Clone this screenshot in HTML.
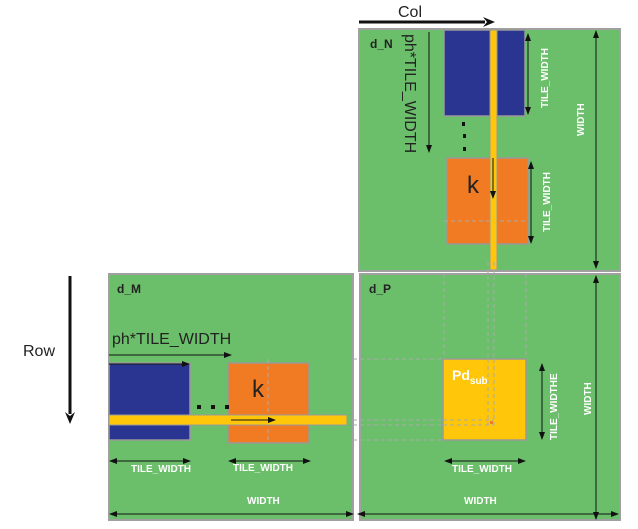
<!DOCTYPE html>
<html><head><style>body{margin:0;background:#fff}svg{display:block}</style></head><body>
<svg width="638" height="529" viewBox="0 0 638 529" xmlns="http://www.w3.org/2000/svg" font-family="Liberation Sans, Arial, sans-serif">
<defs>
<marker id="a" markerWidth="8" markerHeight="8" refX="7" refY="4" orient="auto" markerUnits="userSpaceOnUse"><path d="M0,1 L8,4 L0,7z" fill="#111"/></marker>
<marker id="b" markerWidth="8" markerHeight="8" refX="1" refY="4" orient="auto" markerUnits="userSpaceOnUse"><path d="M8,1 L0,4 L8,7z" fill="#111"/></marker>
<marker id="o" markerWidth="12" markerHeight="10" refX="2" refY="5" orient="auto" markerUnits="userSpaceOnUse"><path d="M0,0 L12,5 L0,10 L4,5z" fill="#111"/></marker>
</defs>
<!-- matrices -->
<rect x="359" y="29" width="261" height="242" fill="#6bbe6a" stroke="#a0a0a0" stroke-width="2"/>
<rect x="109" y="274" width="244" height="246" fill="#6bbe6a" stroke="#a0a0a0" stroke-width="2"/>
<rect x="360" y="274" width="260" height="246" fill="#6bbe6a" stroke="#a0a0a0" stroke-width="2"/>
<text x="370" y="48" font-size="12" font-weight="bold" fill="#222">d_N</text>
<text x="117" y="293" font-size="12" font-weight="bold" fill="#222">d_M</text>
<text x="369" y="293" font-size="12" font-weight="bold" fill="#222">d_P</text>
<!-- d_N tiles -->
<rect x="444" y="30" width="81" height="86" fill="#2a3592" stroke="#999" stroke-width="1.5"/>
<rect x="447" y="158" width="81" height="86" fill="#f07b23" stroke="#999" stroke-width="1.5"/>
<line x1="444" y1="221" x2="528" y2="221" stroke="#aaa" stroke-dasharray="4,3"/>
<rect x="490" y="30" width="7" height="240" fill="#ffc60a" stroke="#999" stroke-width="1"/>
<line x1="493" y1="158" x2="493" y2="198" stroke="#111" marker-end="url(#a)"/>
<text x="473" y="193" font-size="24" fill="#222" text-anchor="middle">k</text>
<rect x="462" y="122" width="3" height="4" fill="#111"/><rect x="463" y="134" width="3" height="4" fill="#111"/><rect x="463" y="147" width="3" height="4" fill="#111"/>
<line x1="429" y1="32" x2="429" y2="152" stroke="#111" marker-end="url(#a)"/>
<text transform="translate(405,34) rotate(90)" font-size="16" fill="#222">ph*TILE_WIDTH</text>
<line x1="528" y1="34" x2="528" y2="114" stroke="#111" marker-end="url(#a)" marker-start="url(#b)"/>
<text transform="translate(548,108) rotate(-90)" font-size="10" font-weight="bold" fill="#fff">TILE_WIDTH</text>
<line x1="531" y1="162" x2="531" y2="243" stroke="#111" marker-end="url(#a)" marker-start="url(#b)"/>
<text transform="translate(550,232) rotate(-90)" font-size="10" font-weight="bold" fill="#fff">TILE_WIDTH</text>
<line x1="596" y1="31" x2="596" y2="268" stroke="#111" marker-end="url(#a)" marker-start="url(#b)"/>
<text transform="translate(584,136) rotate(-90)" font-size="10" font-weight="bold" fill="#fff">WIDTH</text>
<!-- Col -->
<line x1="359" y1="22" x2="485" y2="22" stroke="#111" stroke-width="3" marker-end="url(#o)"/>
<text x="398" y="17" font-size="16" fill="#222">Col</text>
<!-- Row -->
<line x1="70" y1="276" x2="70" y2="414" stroke="#111" stroke-width="3" transform="" marker-end="url(#o)"/>
<text x="23" y="356" font-size="16" fill="#222">Row</text>
<!-- d_M tiles -->
<rect x="109" y="363" width="81" height="77" fill="#2a3592" stroke="#999" stroke-width="1.5"/>
<rect x="228" y="363" width="81" height="80" fill="#f07b23" stroke="#999" stroke-width="1.5"/>
<line x1="268" y1="359" x2="268" y2="443" stroke="#aaa" stroke-dasharray="4,3"/>
<rect x="109" y="415" width="238" height="10" fill="#ffc60a" stroke="#999" stroke-width="1"/>
<line x1="231" y1="420" x2="275" y2="420" stroke="#111" marker-end="url(#a)"/>
<text x="258" y="397" font-size="24" fill="#222" text-anchor="middle">k</text>
<rect x="197" y="405" width="4" height="4" fill="#111"/><rect x="211" y="405" width="4" height="4" fill="#111"/><rect x="225" y="405" width="4" height="4" fill="#111"/>
<text x="112" y="344" font-size="16" fill="#222">ph*TILE_WIDTH</text>
<line x1="109" y1="355" x2="231" y2="355" stroke="#111" marker-end="url(#a)"/>
<line x1="109" y1="364" x2="189" y2="364" stroke="#111" marker-end="url(#a)"/>
<line x1="110" y1="461" x2="190" y2="461" stroke="#111" marker-end="url(#a)" marker-start="url(#b)"/>
<text x="131" y="472" font-size="10" font-weight="bold" fill="#fff">TILE_WIDTH</text>
<line x1="229" y1="461" x2="310" y2="461" stroke="#111" marker-end="url(#a)" marker-start="url(#b)"/>
<text x="233" y="471" font-size="10" font-weight="bold" fill="#fff">TILE_WIDTH</text>
<line x1="110" y1="514" x2="353" y2="514" stroke="#111" marker-end="url(#a)" marker-start="url(#b)"/>
<text x="247" y="504" font-size="10" font-weight="bold" fill="#fff">WIDTH</text>
<!-- d_P -->
<g stroke="#aaa" stroke-dasharray="4,3" fill="none">
<line x1="444" y1="274" x2="444" y2="440"/>
<line x1="526" y1="274" x2="526" y2="440"/>
<line x1="488" y1="262" x2="488" y2="425"/>
<line x1="494" y1="262" x2="494" y2="425"/>
<line x1="353" y1="359" x2="444" y2="359"/>
<line x1="353" y1="440" x2="444" y2="440"/>
<line x1="353" y1="420" x2="494" y2="420"/>
<line x1="353" y1="425" x2="494" y2="425"/>
</g>
<rect x="443" y="359" width="83" height="81" fill="#ffc60a" stroke="#999" stroke-width="1.5"/>
<g stroke="#aaa" stroke-dasharray="4,3" fill="none">
<line x1="488" y1="359" x2="488" y2="425"/><line x1="494" y1="359" x2="494" y2="425"/>
<line x1="443" y1="420" x2="494" y2="420"/><line x1="443" y1="425" x2="494" y2="425"/>
</g>
<rect x="490" y="421" width="3" height="3" fill="#f07b23"/>
<text x="452" y="380" font-size="14" font-weight="bold" fill="#fff">Pd<tspan font-size="10" dy="4">sub</tspan></text>
<line x1="542" y1="364" x2="542" y2="439" stroke="#111" marker-end="url(#a)" marker-start="url(#b)"/>
<text transform="translate(557,440) rotate(-90)" font-size="10" font-weight="bold" fill="#fff">TILE_WIDTHE</text>
<line x1="445" y1="461" x2="525" y2="461" stroke="#111" marker-end="url(#a)" marker-start="url(#b)"/>
<text x="452" y="472" font-size="10" font-weight="bold" fill="#fff">TILE_WIDTH</text>
<line x1="596" y1="276" x2="596" y2="519" stroke="#111" marker-end="url(#a)" marker-start="url(#b)"/>
<text transform="translate(591,415) rotate(-90)" font-size="10" font-weight="bold" fill="#fff">WIDTH</text>
<line x1="358" y1="514" x2="618" y2="514" stroke="#111" marker-end="url(#a)" marker-start="url(#b)"/>
<text x="464" y="504" font-size="10" font-weight="bold" fill="#fff">WIDTH</text>
</svg>
</body></html>
